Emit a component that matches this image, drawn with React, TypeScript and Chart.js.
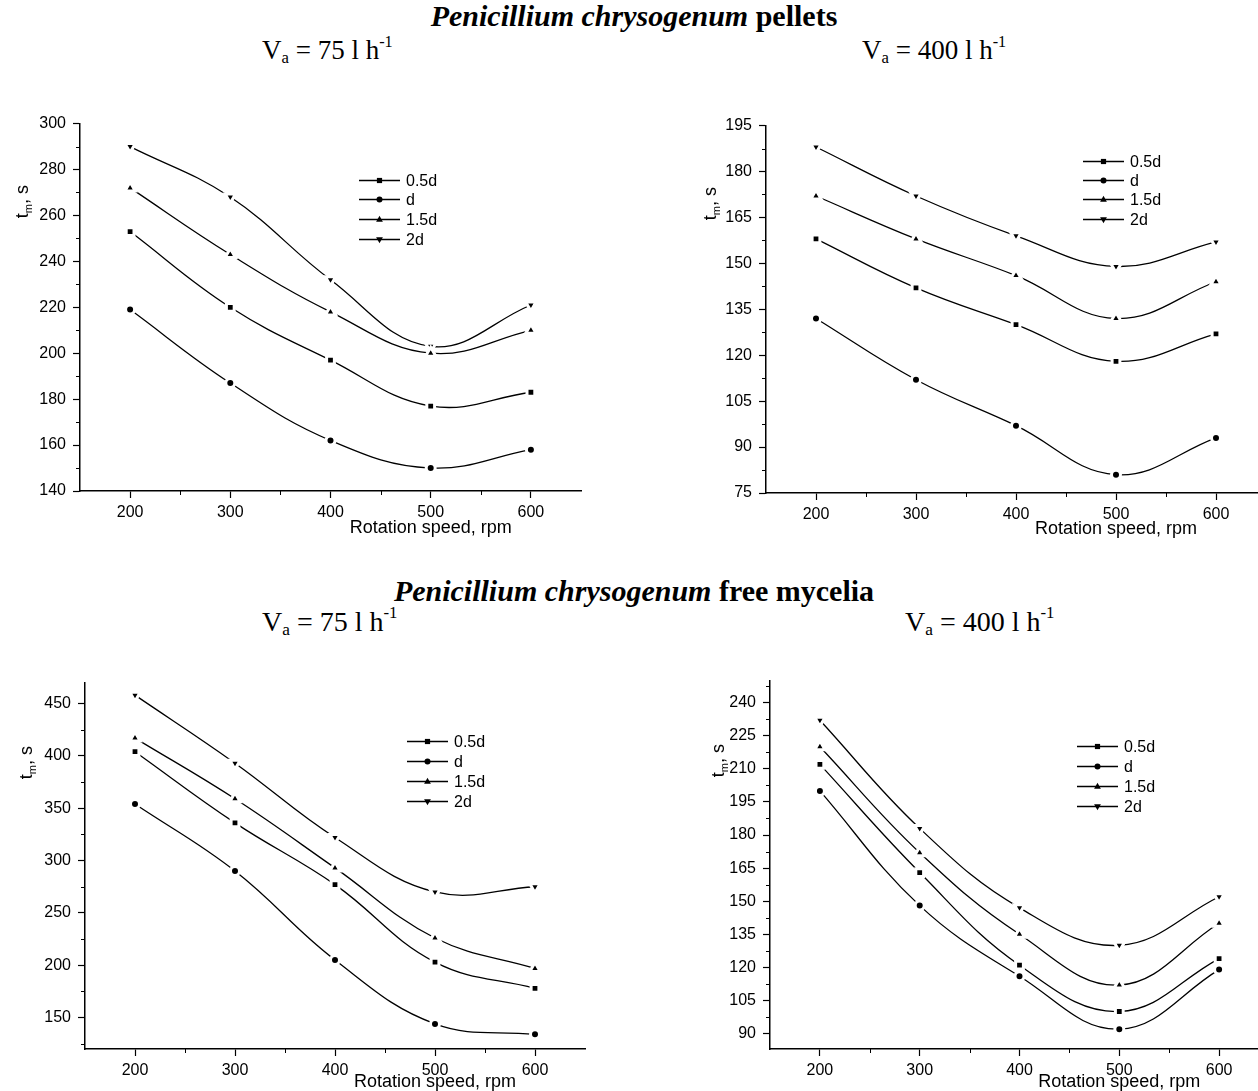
import React, { useEffect, useRef } from 'react';
import { Chart, registerables } from 'chart.js';

Chart.register(...registerables);

// ---------- data ----------
const speeds = [200, 300, 400, 500, 600];
const seriesNames = ['0.5d', 'd', '1.5d', '2d'];
const xTickValues = [200, 300, 400, 500, 600];

const pellets75_05d = [253, 220, 197, 177, 183];
const pellets75_d = [219, 187, 162, 150, 158];
const pellets75_15d = [272, 243, 218, 200, 210];
const pellets75_2d = [290, 268, 232, 203, 221];

const pellets400_05d = [158, 142, 130, 118, 127];
const pellets400_d = [132, 112, 97, 81, 93];
const pellets400_15d = [172, 158, 146, 132, 144];
const pellets400_2d = [188, 172, 159, 149, 157];

const mycelia75_05d = [404, 336, 277, 203, 178];
const mycelia75_d = [354, 290, 205, 144, 134];
const mycelia75_15d = [417, 359, 293, 226, 197];
const mycelia75_2d = [458, 393, 322, 270, 275];

const mycelia400_05d = [212, 163, 121, 100, 124];
const mycelia400_d = [200, 148, 116, 92, 119];
const mycelia400_15d = [220, 172, 135, 112, 140];
const mycelia400_2d = [232, 183, 147, 130, 152];

const yTicksPellets75 = [140, 160, 180, 200, 220, 240, 260, 280, 300];
const yTicksPellets400 = [75, 90, 105, 120, 135, 150, 165, 180, 195];
const yTicksMycelia75 = [150, 200, 250, 300, 350, 400, 450];
const yTicksMycelia400 = [90, 105, 120, 135, 150, 165, 180, 195, 210, 225, 240];

const xTitleText = 'Rotation speed, rpm';

// ---------- styling ----------
const SANS = '"Liberation Sans", Arial, sans-serif';
const SERIF = '"Liberation Serif", "Times New Roman", serif';
const pointStyles = ['rect', 'circle', 'triangle', 'triangle'];
const pointRotations = [0, 0, 0, 180];
const pointRadii = [5.5, 4.5, 6, 6];

const Y_BOX = 72;
const PAD_TOP = 16;
const PAD_RIGHT = 10;
const X_BOX = 48;

function midpoints(arr: number[], lo: number, hi: number, extraBefore = true, extraAfter = true) {
  const step = arr[1] - arr[0];
  const out: number[] = [];
  for (let i = 0; i < arr.length - 1; i++) out.push((arr[i] + arr[i + 1]) / 2);
  if (extraBefore) out.unshift(arr[0] - step / 2);
  if (extraAfter) out.push(arr[arr.length - 1] + step / 2);
  return out.filter((v) => v > lo && v < hi);
}

function drawMarker(ctx: CanvasRenderingContext2D, style: string, rot: number, x: number, y: number) {
  ctx.beginPath();
  if (style === 'rect') {
    ctx.rect(x - 2.6, y - 2.6, 5.2, 5.2);
  } else if (style === 'circle') {
    ctx.arc(x, y, 3, 0, Math.PI * 2);
  } else {
    const d = rot ? -1 : 1;
    ctx.moveTo(x, y - d * 3.8);
    ctx.lineTo(x + 3.4, y + d * 2.2);
    ctx.lineTo(x - 3.4, y + d * 2.2);
    ctx.closePath();
  }
  ctx.fill();
}

const decorPlugin = {
  id: 'decor',
  afterDraw(chart: any, _args: any, opts: any) {
    const { ctx, chartArea } = chart;
    const xs = chart.scales.x;
    const ys = chart.scales.y;
    ctx.save();
    ctx.strokeStyle = '#000';
    ctx.fillStyle = '#000';
    // minor ticks
    ctx.lineWidth = 1;
    ctx.beginPath();
    (opts.xMinor as number[]).forEach((v) => {
      const px = Math.round(xs.getPixelForValue(v)) + 0.5;
      ctx.moveTo(px, chartArea.bottom);
      ctx.lineTo(px, chartArea.bottom + 4);
    });
    (opts.yMinor as number[]).forEach((v) => {
      const py = Math.round(ys.getPixelForValue(v)) + 0.5;
      ctx.moveTo(chartArea.left, py);
      ctx.lineTo(chartArea.left - 4, py);
    });
    ctx.stroke();

    // legend
    const lx = chartArea.left + opts.legendDx;
    const ly = chartArea.top + opts.legendDy;
    ctx.font = `16px ${SANS}`;
    ctx.textAlign = 'left';
    ctx.textBaseline = 'middle';
    chart.data.datasets.forEach((ds: any, i: number) => {
      const y = Math.round(ly + i * opts.legendRow) + 0.5;
      ctx.lineWidth = 1.3;
      ctx.beginPath();
      ctx.moveTo(lx, y);
      ctx.lineTo(lx + 41, y);
      ctx.stroke();
      drawMarker(ctx, pointStyles[i], pointRotations[i], lx + 20.5, y);
      ctx.fillText(ds.label, lx + 47, y + 1);
    });

    // x title
    ctx.font = `18px ${SANS}`;
    ctx.textAlign = 'center';
    ctx.textBaseline = 'middle';
    ctx.fillText(xTitleText, xs.getPixelForValue(opts.xTitleAt), chartArea.bottom + opts.xTitleDy);

    // y title: t_m, s (rotated)
    ctx.translate(chartArea.left - opts.yTitleDx, chartArea.top + opts.yTitleDy);
    ctx.rotate(-Math.PI / 2);
    ctx.textAlign = 'left';
    ctx.textBaseline = 'alphabetic';
    const big = `18px ${SANS}`;
    const small = `11px ${SANS}`;
    ctx.font = big;
    const wT = ctx.measureText('t').width;
    const wRest = ctx.measureText(', s').width;
    ctx.font = small;
    const wM = ctx.measureText('m').width;
    let x0 = -(wT + wM + wRest) / 2;
    ctx.font = big;
    ctx.fillText('t', x0, 6);
    x0 += wT;
    ctx.font = small;
    ctx.fillText('m', x0, 10);
    x0 += wM;
    ctx.font = big;
    ctx.fillText(', s', x0, 6);
    ctx.restore();
  },
};

type Area = { left: number; top: number; right: number; bottom: number };
type PanelCfg = {
  area: Area;
  yMin: number;
  yMax: number;
  yTicks: number[];
  series: number[][];
  legendDx: number;
  legendDy: number;
  legendRow: number;
  yTitleDx: number;
  yTitleDy: number;
  xTitleDy: number;
};

function Panel({ cfg }: { cfg: PanelCfg }) {
  const ref = useRef<HTMLCanvasElement>(null);
  const { area } = cfg;
  const width = Y_BOX + (area.right - area.left) + PAD_RIGHT;
  const height = PAD_TOP + (area.bottom - area.top) + X_BOX;
  useEffect(() => {
    const canvas = ref.current;
    if (!canvas) return;
    const xMinor = midpoints(xTickValues, 150, 650, true, false);
    const yMinor = midpoints(cfg.yTicks, cfg.yMin, cfg.yMax);
    const chart = new Chart(canvas, {
      type: 'line',
      data: {
        datasets: cfg.series.map((vals, i) => ({
          label: seriesNames[i],
          data: speeds.map((s, j) => ({ x: s, y: vals[j] })),
          borderColor: '#000',
          borderWidth: 1.3,
          backgroundColor: '#000',
          pointStyle: pointStyles[i] as any,
          pointRotation: pointRotations[i],
          pointRadius: pointRadii[i],
          pointBackgroundColor: '#000',
          pointBorderColor: '#fff',
          pointBorderWidth: 3,
          tension: 0.4,
          fill: false,
        })),
      },
      options: {
        responsive: false,
        animation: false,
        devicePixelRatio: 1,
        layout: { padding: { top: PAD_TOP, right: PAD_RIGHT, left: 0, bottom: 0 } },
        plugins: {
          legend: { display: false },
          tooltip: { enabled: false },
          decor: {
            xMinor,
            yMinor,
            legendDx: cfg.legendDx,
            legendDy: cfg.legendDy,
            legendRow: cfg.legendRow,
            xTitleAt: 500,
            xTitleDy: cfg.xTitleDy,
            yTitleDx: cfg.yTitleDx,
            yTitleDy: cfg.yTitleDy,
          },
        } as any,
        scales: {
          x: {
            type: 'linear',
            min: 150,
            max: 650,
            afterFit: (s: any) => {
              s.height = X_BOX;
            },
            afterBuildTicks: (s: any) => {
              s.ticks = xTickValues.map((v) => ({ value: v }));
            },
            grid: { drawOnChartArea: false, drawTicks: true, tickLength: 7, color: '#000', tickWidth: 1.2 },
            border: { display: true, color: '#000', width: 1.5 },
            ticks: { color: '#000', font: { family: SANS, size: 16 }, padding: 5, maxRotation: 0, autoSkip: false },
          },
          y: {
            type: 'linear',
            min: cfg.yMin,
            max: cfg.yMax,
            afterFit: (s: any) => {
              s.width = Y_BOX;
            },
            afterBuildTicks: (s: any) => {
              s.ticks = cfg.yTicks.map((v) => ({ value: v }));
            },
            grid: { drawOnChartArea: false, drawTicks: true, tickLength: 7, color: '#000', tickWidth: 1.2 },
            border: { display: true, color: '#000', width: 1.5 },
            ticks: { color: '#000', font: { family: SANS, size: 16 }, padding: 7, autoSkip: false },
          },
        },
      },
      plugins: [decorPlugin],
    });
    return () => chart.destroy();
  }, []);
  return (
    <canvas
      ref={ref}
      width={width}
      height={height}
      style={{ position: 'absolute', left: area.left - Y_BOX, top: area.top - PAD_TOP, width, height }}
    />
  );
}

const panels: PanelCfg[] = [
  {
    area: { left: 80, top: 123, right: 581, bottom: 491 },
    yMin: 140,
    yMax: 300,
    yTicks: yTicksPellets75,
    series: [pellets75_05d, pellets75_d, pellets75_15d, pellets75_2d],
    legendDx: 279,
    legendDy: 56,
    legendRow: 19.7,
    yTitleDx: 58,
    yTitleDy: 78,
    xTitleDy: 37,
  },
  {
    area: { left: 766, top: 125, right: 1266, bottom: 493 },
    yMin: 75,
    yMax: 195,
    yTicks: yTicksPellets400,
    series: [pellets400_05d, pellets400_d, pellets400_15d, pellets400_2d],
    legendDx: 317,
    legendDy: 35,
    legendRow: 19.4,
    yTitleDx: 56,
    yTitleDy: 78,
    xTitleDy: 36,
  },
  {
    area: { left: 85, top: 682, right: 585, bottom: 1049 },
    yMin: 120,
    yMax: 470,
    yTicks: yTicksMycelia75,
    series: [mycelia75_05d, mycelia75_d, mycelia75_15d, mycelia75_2d],
    legendDx: 322,
    legendDy: 58,
    legendRow: 20,
    yTitleDx: 59,
    yTitleDy: 80,
    xTitleDy: 33,
  },
  {
    area: { left: 770, top: 680, right: 1269, bottom: 1049 },
    yMin: 83,
    yMax: 250,
    yTicks: yTicksMycelia400,
    series: [mycelia400_05d, mycelia400_d, mycelia400_15d, mycelia400_2d],
    legendDx: 307,
    legendDy: 65,
    legendRow: 20,
    yTitleDx: 52,
    yTitleDy: 80,
    xTitleDy: 33,
  },
];

function VaLabel({ left, top, value, size }: { left: number; top: number; value: string; size: number }) {
  return (
    <div
      style={{
        position: 'absolute',
        left,
        top,
        fontFamily: SERIF,
        fontSize: size,
        lineHeight: `${size}px`,
        whiteSpace: 'nowrap',
        color: '#000',
      }}
    >
      V
      <span style={{ fontSize: '0.62em', position: 'relative', top: '0.25em' }}>a</span>
      {` = ${value} l h`}
      <span style={{ fontSize: '0.6em', position: 'relative', top: '-0.75em' }}>-1</span>
    </div>
  );
}

function Title({ top, rest }: { top: number; rest: string }) {
  return (
    <div
      style={{
        position: 'absolute',
        left: 0,
        width: 1268,
        top,
        textAlign: 'center',
        fontFamily: SERIF,
        fontWeight: 'bold',
        fontSize: 30,
        lineHeight: '30px',
        whiteSpace: 'nowrap',
        color: '#000',
      }}
    >
      <i>Penicillium chrysogenum</i> {rest}
    </div>
  );
}

export default function App() {
  return (
    <div
      style={{
        position: 'absolute',
        left: 0,
        top: 0,
        width: 1258,
        height: 1091,
        overflow: 'hidden',
        background: '#fff',
      }}
    >
      <Title top={1} rest="pellets" />
      <VaLabel left={262} top={37} value="75" size={27} />
      <VaLabel left={862} top={37} value="400" size={27} />
      <Title top={576} rest="free mycelia" />
      <VaLabel left={262} top={608} value="75" size={28} />
      <VaLabel left={905} top={608} value="400" size={28} />
      {panels.map((p, i) => (
        <Panel key={i} cfg={p} />
      ))}
    </div>
  );
}
